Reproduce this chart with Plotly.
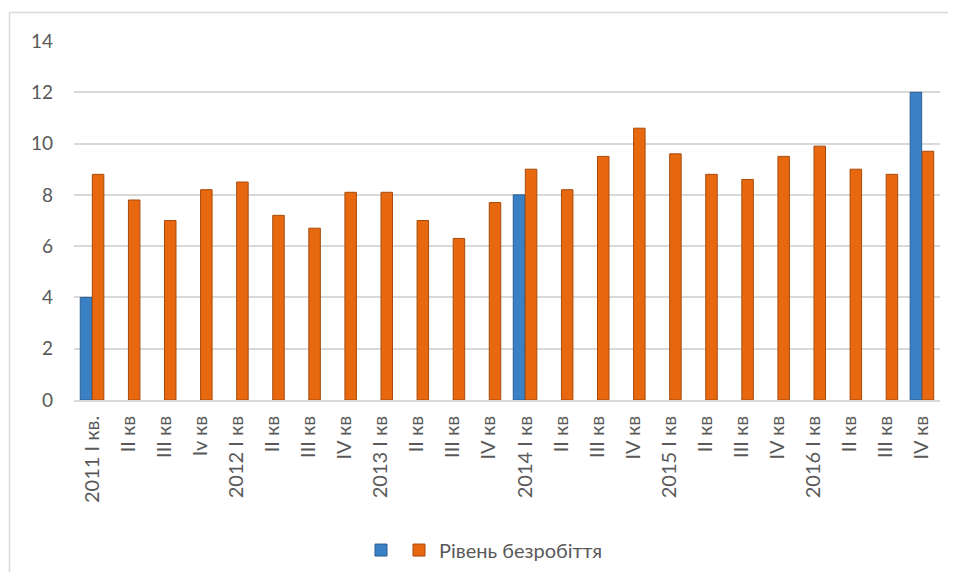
import plotly.graph_objects as go

categories = ["2011 I кв.", "II кв", "III кв", "Iv кв", "2012 I кв", "II кв ", "III кв ", "IV кв",
              "2013 I кв", "II кв  ", "III кв  ", "IV кв ", "2014 I кв", "II кв   ", "III кв   ", "IV кв  ",
              "2015 I кв", "II кв    ", "III кв    ", "IV кв   ", "2016 I кв", "II кв     ", "III кв     ", "IV кв    "]
tick_text = ["2011 I кв.", "II кв", "III кв", "Iv кв", "2012 I кв", "II кв", "III кв", "IV кв",
             "2013 I кв", "II кв", "III кв", "IV кв", "2014 I кв", "II кв", "III кв", "IV кв",
             "2015 I кв", "II кв", "III кв", "IV кв", "2016 I кв", "II кв", "III кв", "IV кв"]
blue_values = [4, None, None, None, None, None, None, None, None, None, None, None,
               8, None, None, None, None, None, None, None, None, None, None, 12]
unemployment = [8.8, 7.8, 7.0, 8.2, 8.5, 7.2, 6.7, 8.1, 8.1, 7.0, 6.3, 7.7,
                9.0, 8.2, 9.5, 10.6, 9.6, 8.8, 8.6, 9.5, 9.9, 9.0, 8.8, 9.7]

x_idx = list(range(len(categories)))

fig = go.Figure()
fig.add_trace(go.Bar(x=x_idx, y=blue_values, name=" ", legend="legend2",
                     marker=dict(color="#3a80c4", line=dict(color="#2b5f93", width=1))))
fig.add_trace(go.Bar(x=x_idx, y=unemployment, name="Рівень безробіття", legend="legend",
                     marker=dict(color="#e8680f", line=dict(color="#a64a0b", width=1))))

# page body has an 8px margin, so figure is offset by (8, 8)
W, H = 940, 564
L, T = 66, 33
PW, PH = 866, 359
R = W - L - PW
B = H - T - PH

legend_style = dict(orientation="h", xanchor="left", y=-0.418, yanchor="middle",
                    font=dict(size=20, color="#595959"), itemwidth=30,
                    bgcolor="rgba(0,0,0,0)", borderwidth=0)

fig.update_layout(
    width=W, height=H,
    margin=dict(l=L, r=R, t=T, b=B, autoexpand=False),
    paper_bgcolor="white", plot_bgcolor="white",
    barmode="group", bargap=0.33, bargroupgap=0.05,
    font=dict(family="Lato, 'Open Sans', sans-serif", color="#595959", size=16),
    showlegend=True,
    legend=dict(x=(391 - L) / PW, **legend_style),
    legend2=dict(x=(353 - L) / PW, **legend_style),
    xaxis=dict(tickmode="array", tickvals=x_idx, ticktext=tick_text, tickangle=-90,
               range=[-0.5, len(categories) - 0.5], showgrid=False, automargin=False,
               showline=True, linecolor="#d9d9d9", linewidth=1.5, ticks="",
               ticklabelstandoff=6,
               tickfont=dict(size=20, color="#595959")),
    yaxis=dict(range=[0, 14], dtick=2, showgrid=True, gridcolor="#d9d9d9", gridwidth=1.5,
               zeroline=False, showline=False, ticks="", ticklabelstandoff=20, automargin=False,
               tickfont=dict(size=19, color="#595959")),
    shapes=[
        dict(type="line", xref="paper", yref="paper",
             x0=(1.5 - L) / PW, x1=(1.5 - L) / PW, y0=-0.7, y1=(PH + T - 4.5) / PH,
             line=dict(color="#d9d9d9", width=1.5)),
        dict(type="line", xref="paper", yref="paper",
             x0=(1.5 - L) / PW, x1=1.05, y0=(PH + T - 4.5) / PH, y1=(PH + T - 4.5) / PH,
             line=dict(color="#d9d9d9", width=1.5)),
    ],
)

fig.write_html("out.html")
